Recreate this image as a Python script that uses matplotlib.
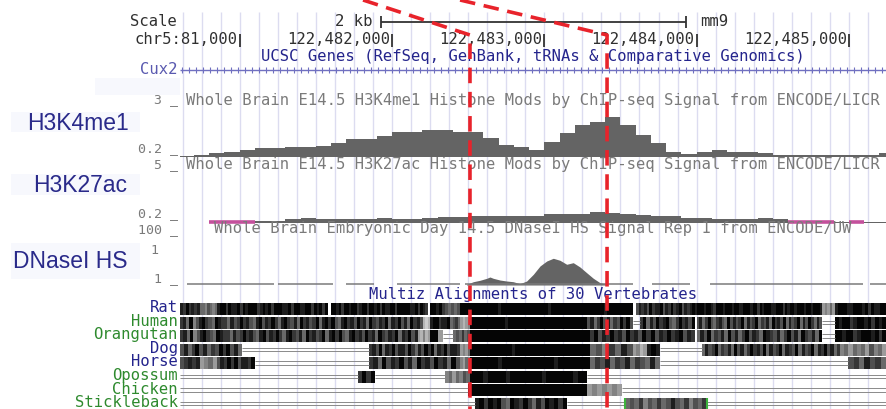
import numpy as np
import matplotlib

matplotlib.use("Agg")
import matplotlib.pyplot as plt
from matplotlib.patches import Rectangle

W, H = 886, 409
BROWSER_LEFT = 180          # px where the browser image starts
PX0, PX_PER_KB = 87.4, 152.3  # px position of chr5:122,480,000 and px per kb

# genome positions are kb from chr5:122,480,000
ruler_ticks = [1.0, 2.0, 3.0, 4.0, 5.0]
ruler_labels = ["chr5:81,000", "122,482,000", "122,483,000", "122,484,000", "122,485,000"]
scale_bar = (1.929, 3.929)
highlight = (2.512, 3.412)
callout_from = (1.810, 2.447)

# 100 bp bins, starts 0.6 .. 5.2
bin_edges = np.round(np.arange(0.6, 5.31, 0.1), 1)
h3k4me1 = [0.25, 0.28, 0.37, 0.46, 0.55, 0.64, 0.64, 0.72, 0.72, 0.78,
           0.90, 1.12, 1.12, 1.29, 1.52, 1.52, 1.61, 1.61, 1.52, 1.52,
           1.17, 0.81, 0.69, 0.57, 0.96, 1.44, 1.88, 2.05, 2.29, 1.88,
           1.35, 0.90, 0.46, 0.32, 0.46, 0.55, 0.46, 0.46, 0.37, 0.28,
           0.28, 0.28, 0.28, 0.28, 0.28, 0.28, 0.40]
# nan = no data, 0 = below view range (drawn pink)
h3k27ac = [np.nan, np.nan, 0, 0, 0, 0.40, 0.40, 0.52, 0.61, 0.52,
           0.52, 0.55, 0.52, 0.61, 0.59, 0.55, 0.64, 0.70, 0.70, 0.81,
           0.81, 0.81, 0.81, 0.81, 0.99, 0.99, 0.99, 1.19, 1.05, 0.99,
           0.90, 0.78, 0.78, 0.68, 0.68, 0.55, 0.55, 0.55, 0.64, 0.51,
           0, 0, 0, 0.25, 0, 0.25, 0.25]

dnase_pos = [2.490, 2.534, 2.578, 2.622, 2.643, 2.665, 2.709, 2.753, 2.796, 2.840,
             2.884, 2.928, 2.972, 3.016, 3.059, 3.103, 3.147, 3.190, 3.234, 3.278,
             3.322, 3.366, 3.410]
dnase_val = [1.3, 6.2, 8.9, 12.6, 15.1, 12.6, 9.4, 7.5, 6.2, 2.5,
             7.5, 20.2, 35.9, 45.3, 50.4, 46.6, 39.1, 42.1, 34.0, 23.2,
             12.6, 4.3, 1.3]
dnase_cover = [(0.654, 1.225), (1.251, 1.613), (1.699, 1.883), (2.032, 2.447),
               (2.479, 3.582), (3.707, 3.957), (4.088, 5.093), (5.139, 5.244)]

species = ["Rat", "Human", "Orangutan", "Dog", "Horse", "Opossum", "Chicken", "Stickleback"]
species_colors = ["#24248c", "#2e8a2e", "#2e8a2e", "#24248c", "#24248c",
                  "#2e8a2e", "#2e8a2e", "#2e8a2e"]
# (start kb, end kb, pattern): "=" gap lines, digits = conservation shade 0..9
alignments = {
    "Rat": [(0.608, 0.739, "8797878"), (0.739, 0.851, "5546545"),
            (0.851, 1.580, "899798897989997898979998897998899798979"),
            (1.600, 2.236, "99897998997899799897988997999998897987"),
            (2.250, 2.447, "9989765656"),
            (2.447, 3.582, "99999999999998999999999999999989999999999999999998999999999"),
            (3.602, 3.989, "6878697889687978968789"),
            (3.989, 4.824, "8999899879998999899889998997989998899979899899989989998"),
            (4.824, 4.909, "34353"), (4.909, 5.244, "89998899989798899")],
    "Human": [(0.608, 2.203, "78594689765987758679786589687975897685978679589796589786978597687958796859786"),
              (2.203, 2.250, "212"), (2.250, 2.381, "8997889"), (2.381, 2.447, "5675"),
              (2.447, 2.512, "3234"),
              (2.512, 3.280, "9999999999998999999999999999999999999999"),
              (3.280, 3.582, "68579685769796"), (3.582, 3.628, "="),
              (3.628, 3.989, "79586978965797869"),
              (4.000, 4.824, "685796578659686795867957685978695867958697586"),
              (4.824, 4.909, "="), (4.909, 5.244, "98997899897989")],
    "Orangutan": [(0.608, 2.171, "785946897659877586797865896879758976859786795897965897869785976879587968"),
                  (2.171, 2.250, "32423"), (2.250, 2.300, "99"), (2.300, 2.335, "3"),
                  (2.335, 2.401, "="), (2.401, 2.512, "565756"),
                  (2.512, 3.300, "99999999999999999999999999999999999999999"),
                  (3.300, 3.989, "79687978697869796879789687"),
                  (4.000, 4.824, "586957685968579687598768579685976859"),
                  (4.824, 4.909, "="), (4.909, 5.244, "99899789998979")],
    "Dog": [(0.608, 1.015, "6857968576979685"), (1.015, 1.849, "="),
            (1.849, 2.447, "7869587968869758697958796887"), (2.447, 2.512, "3435"),
            (2.512, 3.300, "9999999999999899999999999999999999999"),
            (3.300, 3.582, "5647586"), (3.582, 3.674, "3423"), (3.674, 3.760, "898"),
            (3.760, 4.035, "="),
            (4.035, 4.942, "5867957685968579786958679587695867958796857"),
            (4.942, 5.244, "45354536453")],
    "Horse": [(0.608, 0.739, "67878"), (0.739, 0.851, "3453"), (0.851, 1.100, "68797968879"),
              (1.100, 1.849, "="), (1.849, 2.447, "785968796859786978596"),
              (2.447, 2.512, "4354"), (2.512, 3.300, "999999989999999999999899999999"),
              (3.300, 3.760, "57685768576585"), (3.760, 4.995, "="),
              (4.995, 5.244, "6758675")],
    "Opossum": [(0.608, 1.777, "="), (1.777, 1.888, "7979"), (1.888, 2.348, "="),
                (2.348, 2.512, "4535465"), (2.512, 3.280, "99989999899999998999999899"),
                (3.280, 5.244, "=")],
    "Chicken": [(0.608, 2.499, "="), (2.499, 3.280, "9999999999999999999999"),
                (3.280, 3.510, "3434343"), (3.510, 5.244, "=")],
    "Stickleback": [(0.608, 2.545, "="), (2.545, 3.149, "897989659879758698979"),
                    (3.149, 3.530, "="), (3.530, 4.068, "565746575686574657"),
                    (4.068, 5.244, "=")],
}
stickleback_marks = [3.530, 4.068]

track_titles = [
    "Whole Brain E14.5 H3K4me1 Histone Mods by ChIP-seq Signal from ENCODE/LICR",
    "Whole Brain E14.5 H3K27ac Histone Mods by ChIP-seq Signal from ENCODE/LICR",
    "Whole Brain Embryonic Day 14.5 DNaseI HS Signal Rep 1 from ENCODE/UW",
]
mark_labels = ["H3K4me1", "H3K27ac", "DNaseI HS"]

MONO = "DejaVu Sans Mono"
FS = 11.2
FS_SMALL = 9.5
SIGNAL = "#646464"
PINK = "#c4509c"
RED = "#e8232b"
LABEL_BLUE = "#2a2a8a"
UCSC_BLUE = "#24248c"


def px(kb):
    return PX0 + PX_PER_KB * kb


view = ((BROWSER_LEFT - PX0) / PX_PER_KB, (W - PX0) / PX_PER_KB)


def browser_axes(top, bottom, ylim):
    a = fig.add_axes([BROWSER_LEFT / W, 1 - bottom / H, (W - BROWSER_LEFT) / W, (bottom - top) / H])
    a.set_xlim(view)
    a.set_ylim(ylim)
    a.axis("off")
    a.patch.set_alpha(0)
    return a


fig = plt.figure(figsize=(W / 100, H / 100), dpi=100)
fig.patch.set_facecolor("white")

# --- browser background: guide lines, ruler, gene, alignments (y in px) ---
br = browser_axes(0, H, (H, 0))
br.vlines(np.arange(0.625, 5.25, 0.125), 12, H, color="#dcdcf0", lw=1, zorder=0)

br.hlines(22, *scale_bar, color="#333333", lw=1.3)
br.vlines(scale_bar, 16, 28, color="#333333", lw=1.3)
br.vlines(ruler_ticks, 34, 47, color="#333333", lw=1.3)

intron_marks = np.arange(0.62, 5.24, 0.046)
br.hlines(70, *view, color="#7070c0", lw=1)
br.plot(intron_marks, np.full(len(intron_marks), 70),
        ls="none", marker="|", ms=4, mew=0.8, color="#7070c0")

ROW0, ROW_STEP, ROW_H = 309, 13.5, 12
for k, name in enumerate(species):
    yc = ROW0 + k * ROW_STEP
    for start, end, pattern in alignments[name]:
        if pattern == "=":
            br.hlines([yc - 1.6, yc + 1.6], start, end, color="#8a8a8a", lw=0.7)
            continue
        n = len(pattern)
        w = (end - start) / n
        xs = start + w * np.arange(n)
        keep = [i for i, c in enumerate(pattern) if c.isdigit()]
        cols = [str(round(0.9 - int(pattern[i]) * 0.098, 3)) for i in keep]
        br.bar(xs[keep], ROW_H, width=w * 1.02, bottom=yc - ROW_H / 2, align="edge",
               color=cols, linewidth=0)
    if name == "Stickleback":
        br.vlines(stickleback_marks, yc - ROW_H / 2, yc + ROW_H / 2, color="#3cb43c", lw=1.5)

# --- signal tracks ---
t1 = browser_axes(104, 156.5, (0.2, 3))
t1.stairs(h3k4me1, bin_edges, baseline=0.2, fill=True, color=SIGNAL)

t2 = browser_axes(168, 223, (0.2, 5))
k27 = np.array(h3k27ac, dtype=float)
t2.stairs(np.where(np.isnan(k27), 0.2, np.clip(k27, 0.2, None)), bin_edges,
          baseline=0.2, fill=True, color=SIGNAL)
for i, v in enumerate(k27):
    if v == 0:
        t2.hlines(0.27, bin_edges[i], bin_edges[i + 1], color=PINK, lw=2.6, clip_on=False)

t3 = browser_axes(232, 285, (0, 100))
for a, b in dnase_cover:
    t3.hlines(1.0, a, b, color="#7a7a7a", lw=1.1)
t3.fill_between(dnase_pos, 0, dnase_val, color=SIGNAL, lw=0)

# --- text layer (px coordinates) ---
ax = fig.add_axes([0, 0, 1, 1])
ax.set_xlim(0, W)
ax.set_ylim(H, 0)
ax.axis("off")
ax.patch.set_alpha(0)

for (x, y, w, h) in [(95, 78, 85, 17), (11, 112, 129, 20), (11, 174, 129, 21), (11, 243, 129, 36)]:
    ax.add_patch(Rectangle((x, y), w, h, color="#f7f8fd", lw=0, zorder=0))

dark = "#303030"
gray = "#7a7a7a"
ax.text(130, 22, "Scale", family=MONO, size=FS, color=dark, va="center")
ax.text(373, 22, "2 kb", family=MONO, size=FS, color=dark, va="center", ha="right")
ax.text(700, 22, "mm9", family=MONO, size=FS, color=dark, va="center")
for t, lab in zip(ruler_ticks, ruler_labels):
    ax.text(px(t) - 2, 40, lab, family=MONO, size=FS, color=dark, va="center", ha="right")
ax.text(533, 56, "UCSC Genes (RefSeq, GenBank, tRNAs & Comparative Genomics)",
        family=MONO, size=FS, color=UCSC_BLUE, va="center", ha="center")
ax.text(178, 70, "Cux2", family=MONO, size=FS, color="#5a5ab0", va="center", ha="right")

ax.text(178, 100, "3 _", family=MONO, size=FS_SMALL, color=gray, va="center", ha="right")
ax.text(186, 100, track_titles[0], family=MONO, size=FS, color=gray, va="center")
ax.text(178, 149, "0.2 _", family=MONO, size=FS_SMALL, color=gray, va="center", ha="right")
ax.text(178, 165, "5 _", family=MONO, size=FS_SMALL, color=gray, va="center", ha="right")
ax.text(186, 164, track_titles[1], family=MONO, size=FS, color=gray, va="center")
ax.text(178, 213.5, "0.2 _", family=MONO, size=FS_SMALL, color=gray, va="center", ha="right")
ax.text(178, 229.5, "100 _", family=MONO, size=FS_SMALL, color=gray, va="center", ha="right")
ax.text(214, 229, track_titles[2], family=MONO, size=FS, color=gray, va="center")
ax.text(158, 250, "1", family=MONO, size=FS_SMALL, color=gray, va="center", ha="right")
ax.text(178, 279, "1 _", family=MONO, size=FS_SMALL, color=gray, va="center", ha="right")
ax.text(533, 295, "Multiz Alignments of 30 Vertebrates", family=MONO, size=FS,
        color=UCSC_BLUE, va="center", ha="center")

for k, (name, c) in enumerate(zip(species, species_colors)):
    ax.text(178, ROW0 + k * ROW_STEP - 1, name, family=MONO, size=FS, color=c,
            va="center", ha="right")

for (x, y), lab in zip([(27, 124), (33, 186), (13, 261)], mark_labels):
    ax.text(x, y, lab, family="Liberation Sans", size=16.5, color=LABEL_BLUE, va="center")

# --- red call-out lines on top ---
ov = browser_axes(0, H, (H, 0))
for src, dst in zip(callout_from, highlight):
    ov.plot([src, dst, dst], [0, 35, H], color=RED, lw=2.6, dashes=(4.3, 2.4),
            solid_capstyle="butt", dash_capstyle="butt")

fig.savefig("out.png", dpi=100)
